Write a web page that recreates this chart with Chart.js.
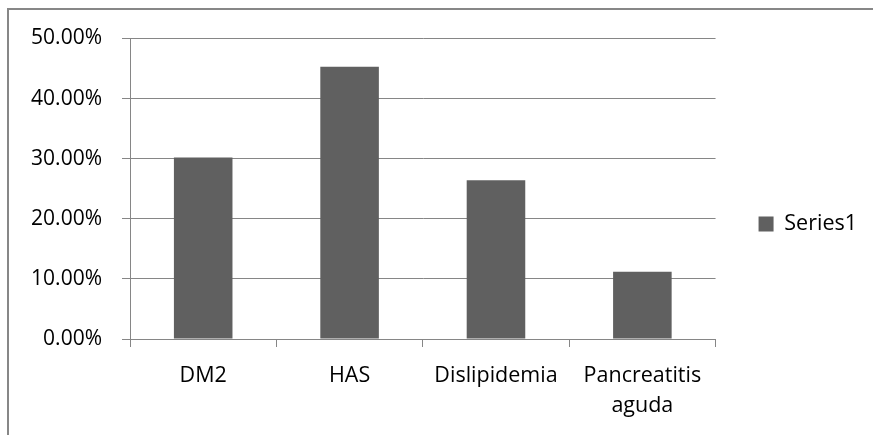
<!DOCTYPE html>
<html>
<head>
<meta charset="utf-8">
<script src="https://cdn.jsdelivr.net/npm/chart.js@4"></script>
<style>
  html, body { margin: 0; padding: 0; background: #fff; overflow: hidden; }
  #frame { position: absolute; left: 7px; top: 8px; width: 900px; height: 500px; border: 2px solid #878787; }
  #wrap { position: absolute; left: 0; top: 0; width: 873px; height: 435px; }
</style>
</head>
<body>
<div id="frame"></div>
<div id="wrap"><canvas id="myChart"></canvas></div>
<script>
// categorias y valores (fracciones)
const categories = ['DM2', 'HAS', 'Dislipidemia', ['Pancreatitis', 'aguda']];
const series1 = [0.302, 0.453, 0.264, 0.112];
const seriesName = 'Series1';
const yMin = 0;
const yMax = 0.5;
const yStep = 0.1;

const gridColor = '#868686';
const fontFamily = '"Open Sans", Lato, sans-serif';

const data = {
    labels: categories,
    datasets: [{
        label: seriesName,
        data: series1,
        backgroundColor: '#606060',
        borderColor: '#606060',
        borderWidth: 0,
        barPercentage: 0.4,
        categoryPercentage: 1,
    }]
};

const config = {
    type: 'bar',
    data: data,
    options: {
        responsive: true,
        maintainAspectRatio: false,
        animation: false,
        layout: {
            padding: { top: 13, right: 6, bottom: 0, left: 0 }
        },
        scales: {
            x: {
                offset: true,
                grid: {
                    offset: true,
                    drawOnChartArea: false,
                    drawTicks: true,
                    tickLength: 8,
                    color: gridColor,
                },
                border: { color: gridColor, width: 1 },
                ticks: {
                    color: '#000',
                    padding: 14,
                    maxRotation: 0,
                    autoSkip: false,
                    font: { family: fontFamily, size: 21.5, lineHeight: 1.4 },
                },
                afterFit: (scale) => { scale.height = 96; }
            },
            y: {
                min: yMin,
                max: yMax,
                grid: {
                    color: gridColor,
                    tickLength: 8,
                },
                border: { color: gridColor, width: 1 },
                ticks: {
                    stepSize: yStep,
                    color: '#000',
                    padding: 20,
                    font: { family: fontFamily, size: 21 },
                    callback: (v) => (v * 100).toFixed(2) + '%',
                },
                afterFit: (scale) => { scale.width = 130; }
            }
        },
        plugins: {
            // espacio arriba del area del grafico
            title: {
                display: true,
                text: ' ',
                font: { size: 10, lineHeight: 1.2 },
                padding: { top: 0, bottom: 13.5 },
            },
            legend: {
                display: true,
                position: 'right',
                align: 'center',
                labels: {
                    color: '#000',
                    boxWidth: 15,
                    boxHeight: 15,
                    padding: 43,
                    font: { family: fontFamily, size: 21.5 },
                }
            },
            tooltip: { enabled: false },
        }
    }
};

const myChart = new Chart(document.getElementById('myChart'), config);
</script>
</body>
</html>
